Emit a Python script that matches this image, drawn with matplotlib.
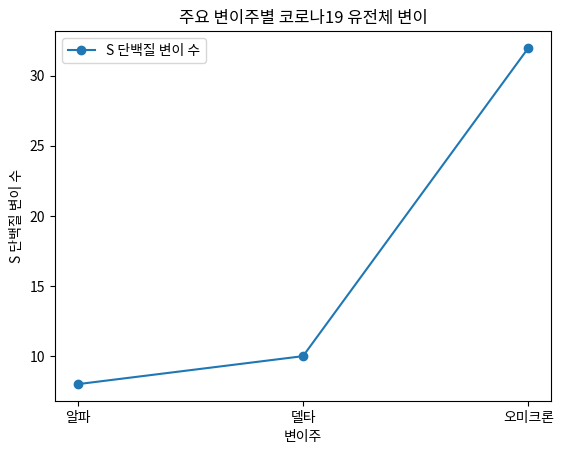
import matplotlib
matplotlib.use("Agg")
import matplotlib.pyplot as plt

plt.rcParams['font.family'] = ['Noto Sans CJK KR', 'DejaVu Sans']

variants = ['알파', '델타', '오미크론']
mutations = [8, 10, 32]

fig = plt.figure(figsize=(5.63, 4.54), dpi=100)
ax = fig.add_axes([55/563, 1-401/454, (551-55)/563, (401-31)/454])
ax.plot(variants, mutations, marker='o', color='#1f77b4', label='S 단백질 변이 수')
ax.set_title('주요 변이주별 코로나19 유전체 변이')
ax.set_xlabel('변이주')
ax.set_ylabel('S 단백질 변이 수')
ax.set_yticks([10, 15, 20, 25, 30])
ax.legend(loc='upper left')
fig.savefig('out.png', dpi=100)
